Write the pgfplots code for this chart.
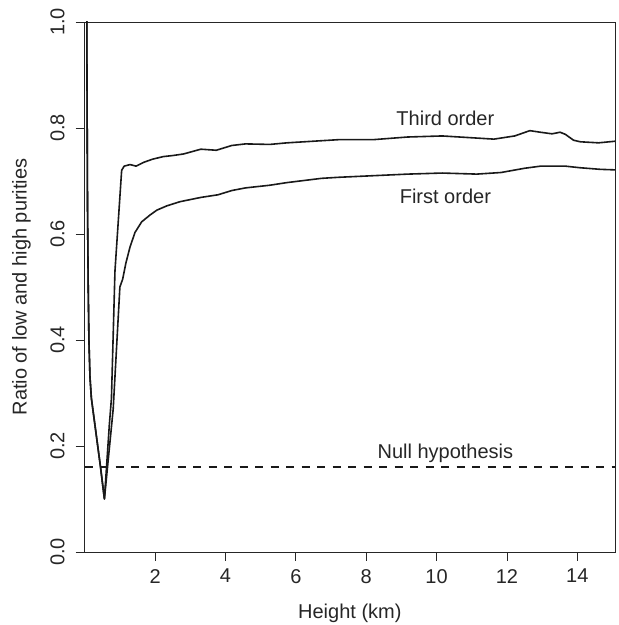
\documentclass[border=0pt]{standalone}
\usepackage{pgfplots}
\pgfplotsset{compat=1.18}
\usepackage{fontspec}
\setmainfont{Liberation Sans}
\begin{document}
\fontsize{20bp}{23bp}\selectfont
\begin{tikzpicture}
\begin{axis}[
  name=ax,
  at={(0,0)}, anchor=south west,
  scale only axis,
  width=530.3bp, height=530bp,
  xmin=0, xmax=15.07, ymin=0, ymax=1,
  axis line style={black!85, line width=0.9bp},
  xtick={2,4,6,8,10,12,14},
  ytick={0,0.2,0.4,0.6,0.8,1.0},
  yticklabels={0.0,0.2,0.4,0.6,0.8,1.0},
  xtick pos=lower, ytick pos=left,
  tick align=outside,
  major tick length=9bp,
  tick style={black!85, line width=0.9bp},
  /pgf/number format/assume math mode=true,
  xticklabel style={yshift=-8bp, anchor=north, inner sep=0pt, text=black!85},
  yticklabel style={xshift=-11bp, rotate=90, anchor=south, inner sep=0pt, text=black!85},
  xlabel={Height (km)},
  ylabel={Ratio of low and high purities},
  xlabel style={at={(axis description cs:0.5,-0.125)}, anchor=base, inner sep=0pt, text=black!85},
  ylabel style={at={(axis description cs:-0.1094,0.5)}, anchor=base, inner sep=0pt, rotate=0, text=black!85},
  clip=true,
]
% Third order
\addplot[black!90, line width=1.6bp, line join=round] coordinates {
(0.05,1.2) (0.065,0.9) (0.08,0.65) (0.10,0.50) (0.12,0.40) (0.15,0.33) (0.19,0.29)
(0.30,0.235) (0.45,0.16) (0.56,0.10)
(0.70,0.24) (0.76,0.29) (0.86,0.53) (0.96,0.63) (1.05,0.72) (1.12,0.728) (1.29,0.731)
(1.46,0.728) (1.67,0.735) (1.92,0.741) (2.23,0.746) (2.5,0.748) (2.81,0.751) (3.30,0.760)
(3.74,0.758) (4.18,0.767) (4.57,0.770) (5.26,0.769) (5.75,0.772) (6.73,0.776) (7.22,0.778)
(8.20,0.778) (9.18,0.783) (10.16,0.785) (10.65,0.783) (11.63,0.779) (12.22,0.785)
(12.65,0.795) (12.95,0.792) (13.28,0.789) (13.51,0.792) (13.66,0.788) (13.89,0.777)
(14.08,0.774) (14.60,0.772) (15.07,0.775)
};
% First order
\addplot[black!90, line width=1.6bp, line join=round] coordinates {
(0.05,1.2) (0.065,0.9) (0.08,0.65) (0.10,0.50) (0.12,0.40) (0.15,0.33) (0.19,0.29)
(0.30,0.235) (0.45,0.16) (0.56,0.10)
(0.81,0.27) (1.00,0.50) (1.08,0.515) (1.17,0.545) (1.29,0.576) (1.43,0.603) (1.62,0.623)
(1.86,0.636) (2.05,0.645) (2.33,0.653) (2.71,0.661) (3.30,0.669) (3.79,0.674) (4.18,0.682)
(4.57,0.687) (5.26,0.692) (5.75,0.697) (6.73,0.705) (7.22,0.707) (8.20,0.710) (9.18,0.713)
(10.16,0.715) (11.14,0.713) (11.83,0.716) (12.5,0.724) (12.95,0.728) (13.66,0.728)
(14.08,0.725) (14.65,0.722) (15.07,0.721)
};
% Null hypothesis
\addplot[black!90, line width=1.6bp, dash pattern=on 8bp off 7.5bp] coordinates {(0,0.16) (15.07,0.16)};
\node[anchor=base, text=black!85] at (axis cs:10.25,0.804) {Third order};
\node[anchor=base, text=black!85] at (axis cs:10.25,0.658) {First order};
\node[anchor=base, text=black!85] at (axis cs:10.25,0.177) {Null hypothesis};
\end{axis}
\pgfresetboundingbox
\useasboundingbox (-84.7bp,-73bp) rectangle (534.3bp,552bp);
\end{tikzpicture}
\end{document}
